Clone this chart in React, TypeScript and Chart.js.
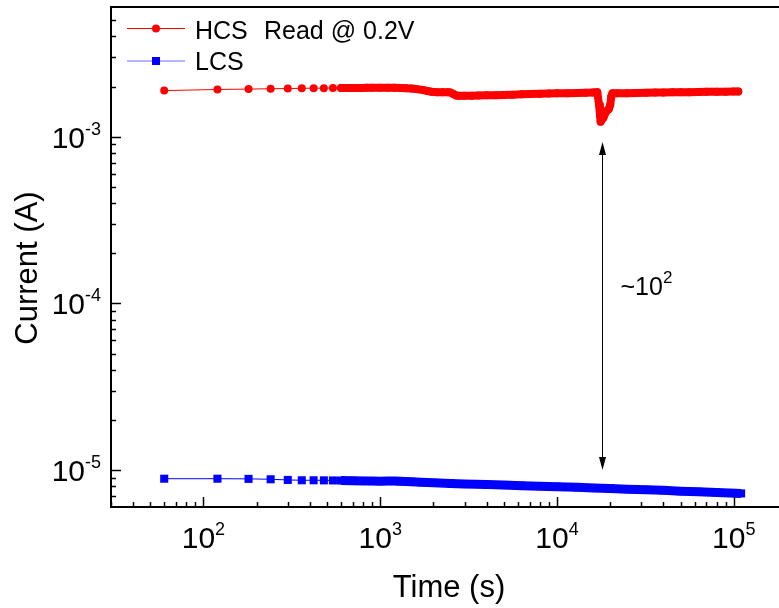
import React, { useEffect, useRef } from "react";
import { Chart, registerables } from "chart.js";

Chart.register(...registerables);

// ---------- data ----------
const HCS_TIME = [
  60, 120, 180, 240, 300, 360, 420, 480, 540, 600, 660, 720, 780, 840, 900,
  1000, 1100, 1200, 1300, 1400, 1500, 1600, 1750, 1850, 1950, 2100, 2250, 2400,
  2500, 2600, 2700, 2800, 3000, 3300, 3600, 4000, 4500, 5000, 5600, 6300, 7000,
  8000, 9000, 10000, 11500, 13000, 14500, 16000, 16900, 17300, 17500, 17650,
  18300, 19000, 19600, 20000, 20300, 20600, 22000, 25000, 28000, 32000, 36000,
  40000, 45000, 50000, 56000, 63000, 70000, 80000, 90000, 100000, 106000,
];
const HCS_CURRENT = [
  1.89e-3, 1.92e-3, 1.93e-3, 1.94e-3, 1.945e-3, 1.95e-3, 1.955e-3, 1.955e-3,
  1.96e-3, 1.96e-3, 1.96e-3, 1.962e-3, 1.962e-3, 1.965e-3, 1.965e-3, 1.966e-3,
  1.966e-3, 1.965e-3, 1.962e-3, 1.955e-3, 1.945e-3, 1.93e-3, 1.905e-3, 1.88e-3,
  1.86e-3, 1.85e-3, 1.848e-3, 1.845e-3, 1.84e-3, 1.8e-3, 1.765e-3, 1.76e-3,
  1.76e-3, 1.762e-3, 1.765e-3, 1.77e-3, 1.775e-3, 1.78e-3, 1.788e-3, 1.795e-3,
  1.802e-3, 1.81e-3, 1.815e-3, 1.82e-3, 1.825e-3, 1.83e-3, 1.835e-3, 1.84e-3,
  1.845e-3, 1.55e-3, 1.35e-3, 1.23e-3, 1.3e-3, 1.42e-3, 1.46e-3, 1.55e-3,
  1.75e-3, 1.82e-3, 1.82e-3, 1.825e-3, 1.83e-3, 1.835e-3, 1.84e-3, 1.84e-3,
  1.845e-3, 1.85e-3, 1.85e-3, 1.855e-3, 1.86e-3, 1.86e-3, 1.862e-3, 1.865e-3,
  1.865e-3,
];
const LCS_TIME = [
  60, 120, 180, 240, 300, 360, 420, 480, 540, 600, 700, 800, 900, 1000, 1100,
  1200, 1300, 1500, 1700, 2000, 2500, 3000, 4000, 5000, 6300, 8000, 10000,
  13000, 16000, 20000, 25000, 32000, 40000, 50000, 63000, 80000, 95000, 110000,
];
const LCS_CURRENT = [
  8.87e-6, 8.87e-6, 8.85e-6, 8.8e-6, 8.72e-6, 8.68e-6, 8.68e-6, 8.67e-6,
  8.66e-6, 8.65e-6, 8.62e-6, 8.6e-6, 8.58e-6, 8.57e-6, 8.58e-6, 8.58e-6,
  8.55e-6, 8.5e-6, 8.45e-6, 8.38e-6, 8.3e-6, 8.24e-6, 8.18e-6, 8.12e-6,
  8.06e-6, 8.0e-6, 7.94e-6, 7.87e-6, 7.81e-6, 7.75e-6, 7.68e-6, 7.61e-6,
  7.55e-6, 7.47e-6, 7.4e-6, 7.33e-6, 7.28e-6, 7.24e-6,
];
const BAND_START_TIME = 600;

const X_MIN = 30;
const X_MAX = 2e5;
const Y_MIN = 6e-6;
const Y_MAX = 6e-3;

const X_MAJOR = [100, 1000, 10000, 100000];
const X_MAJOR_EXP = ["2", "3", "4", "5"];
const Y_MAJOR = [1e-3, 1e-4, 1e-5];
const Y_MAJOR_EXP = ["-3", "-4", "-5"];

const ARROW_TIME = 18000;
const ARROW_TOP = 9.3e-4;
const ARROW_BOTTOM = 1.0e-5;
const ARROW_LABEL_BASE = "~10";
const ARROW_LABEL_EXP = "2";

const X_TITLE = "Time (s)";
const Y_TITLE = "Current (A)";
const HCS_NAME = "HCS";
const LCS_NAME = "LCS";
const READ_NOTE = "Read @ 0.2V";

const RED = "#ff0000";
const BLUE = "#0000ff";
const FONT = "'Liberation Sans', Arial, Helvetica, sans-serif";

function pts(t: number[], c: number[], from = 0) {
  const out: { x: number; y: number }[] = [];
  for (let i = 0; i < t.length; i++) if (t[i] >= from) out.push({ x: t[i], y: c[i] });
  return out;
}

function drawPow(
  ctx: CanvasRenderingContext2D,
  base: string,
  exp: string,
  x: number,
  y: number,
  align: "left" | "center" | "right",
  baseSize: number,
  supSize: number,
  raise: number
) {
  ctx.font = `${baseSize}px ${FONT}`;
  const wb = ctx.measureText(base).width;
  ctx.font = `${supSize}px ${FONT}`;
  const ws = ctx.measureText(exp).width;
  const total = wb + ws;
  const start = align === "center" ? x - total / 2 : align === "right" ? x - total : x;
  ctx.textAlign = "left";
  ctx.textBaseline = "alphabetic";
  ctx.font = `${baseSize}px ${FONT}`;
  ctx.fillText(base, start, y);
  ctx.font = `${supSize}px ${FONT}`;
  ctx.fillText(exp, start + wb, y - raise);
}

const decorPlugin = {
  id: "decor",
  afterDraw(chart: any) {
    const ctx: CanvasRenderingContext2D = chart.ctx;
    const xs = chart.scales.x;
    const ys = chart.scales.y;
    const ca = chart.chartArea;
    ctx.save();
    ctx.fillStyle = "#000";
    ctx.strokeStyle = "#000";

    // frame
    ctx.lineWidth = 2;
    ctx.strokeRect(ca.left, ca.top, ca.right - ca.left, ca.bottom - ca.top);

    // ticks
    ctx.lineWidth = 1.5;
    for (let d = 10; d <= 1e5; d *= 10) {
      for (let m = 1; m <= 9; m++) {
        const v = m * d;
        if (v < X_MIN || v > X_MAX) continue;
        const px = Math.round(xs.getPixelForValue(v)) + 0.5;
        const len = m === 1 ? 10 : 5;
        ctx.beginPath();
        ctx.moveTo(px, ca.bottom);
        ctx.lineTo(px, ca.bottom - len);
        ctx.stroke();
      }
    }
    for (let d = 1e-6; d <= 1e-2; d *= 10) {
      for (let m = 1; m <= 9; m++) {
        const v = m * d;
        if (v < Y_MIN * 1.001 || v > Y_MAX * 0.999) continue;
        const py = Math.round(ys.getPixelForValue(v)) + 0.5;
        const len = m === 1 ? 10 : 5;
        ctx.beginPath();
        ctx.moveTo(ca.left, py);
        ctx.lineTo(ca.left + len, py);
        ctx.stroke();
      }
    }

    // tick labels
    X_MAJOR.forEach((v, i) => {
      const px = xs.getPixelForValue(v);
      drawPow(ctx, "10", X_MAJOR_EXP[i], px, ca.bottom + 41, "center", 30, 18, 13);
    });
    Y_MAJOR.forEach((v, i) => {
      const py = ys.getPixelForValue(v);
      drawPow(ctx, "10", Y_MAJOR_EXP[i], ca.left - 10, py + 11, "right", 30, 18, 13);
    });

    // axis titles
    ctx.font = `31px ${FONT}`;
    ctx.textAlign = "center";
    ctx.textBaseline = "alphabetic";
    ctx.fillText(X_TITLE, (ca.left + ca.right) / 2, ca.bottom + 90);
    ctx.save();
    ctx.translate(37, 268);
    ctx.rotate(-Math.PI / 2);
    ctx.fillText(Y_TITLE, 0, 0);
    ctx.restore();

    // legend
    const lx0 = 127, lx1 = 185, lmx = 156;
    const hy = 28.5, ly = 61;
    ctx.lineWidth = 1;
    ctx.strokeStyle = RED;
    ctx.beginPath(); ctx.moveTo(lx0, hy); ctx.lineTo(lx1, hy); ctx.stroke();
    ctx.fillStyle = RED;
    ctx.beginPath(); ctx.arc(lmx, hy, 4, 0, Math.PI * 2); ctx.fill();
    ctx.strokeStyle = "#6b6bff";
    ctx.beginPath(); ctx.moveTo(lx0, ly); ctx.lineTo(lx1, ly); ctx.stroke();
    ctx.fillStyle = BLUE;
    ctx.fillRect(lmx - 4, ly - 4, 8, 8);
    ctx.fillStyle = "#000";
    ctx.font = `25px ${FONT}`;
    ctx.textAlign = "left";
    ctx.fillText(HCS_NAME, 195, hy + 10);
    ctx.fillText(READ_NOTE, 264, hy + 10);
    ctx.fillText(LCS_NAME, 195, ly + 9);

    // double arrow
    const ax = Math.round(xs.getPixelForValue(ARROW_TIME)) + 0.5;
    const ay0 = ys.getPixelForValue(ARROW_TOP);
    const ay1 = ys.getPixelForValue(ARROW_BOTTOM);
    const head = 13, hw = 3.5;
    ctx.strokeStyle = "#000";
    ctx.fillStyle = "#000";
    ctx.lineWidth = 1;
    ctx.beginPath(); ctx.moveTo(ax, ay0 + head - 2); ctx.lineTo(ax, ay1 - head + 2); ctx.stroke();
    ctx.beginPath();
    ctx.moveTo(ax, ay0); ctx.lineTo(ax - hw, ay0 + head); ctx.lineTo(ax + hw, ay0 + head); ctx.closePath(); ctx.fill();
    ctx.beginPath();
    ctx.moveTo(ax, ay1); ctx.lineTo(ax - hw, ay1 - head); ctx.lineTo(ax + hw, ay1 - head); ctx.closePath(); ctx.fill();
    drawPow(ctx, ARROW_LABEL_BASE, ARROW_LABEL_EXP, ax + 18, 295, "left", 25, 17, 12);

    ctx.restore();
  },
};

export default function App() {
  const ref = useRef<HTMLCanvasElement | null>(null);
  useEffect(() => {
    if (!ref.current) return;
    const chart = new Chart(ref.current, {
      type: "scatter",
      data: {
        datasets: [
          {
            label: "HCS band",
            data: pts(HCS_TIME, HCS_CURRENT, BAND_START_TIME),
            showLine: true,
            borderColor: RED,
            borderWidth: 8,
            borderCapStyle: "round",
            borderJoinStyle: "round",
            pointRadius: 0,
          },
          {
            label: "HCS",
            data: pts(HCS_TIME, HCS_CURRENT),
            showLine: true,
            borderColor: RED,
            borderWidth: 1,
            pointRadius: 4,
            pointBorderWidth: 0,
            pointBackgroundColor: RED,
            pointStyle: "circle",
          },
          {
            label: "LCS band",
            data: pts(LCS_TIME, LCS_CURRENT, BAND_START_TIME),
            showLine: true,
            borderColor: BLUE,
            borderWidth: 9,
            borderCapStyle: "butt",
            borderJoinStyle: "round",
            pointRadius: 0,
          },
          {
            label: "LCS",
            data: pts(LCS_TIME, LCS_CURRENT),
            showLine: true,
            borderColor: BLUE,
            borderWidth: 1,
            pointRadius: 5.7,
            pointBorderWidth: 0,
            pointBackgroundColor: BLUE,
            pointStyle: "rect",
          },
        ],
      } as any,
      options: {
        animation: false,
        responsive: false,
        maintainAspectRatio: false,
        devicePixelRatio: 1,
        layout: { padding: { left: 111, top: 7, right: 13, bottom: 101 } },
        scales: {
          x: { type: "logarithmic", min: X_MIN, max: X_MAX, display: false },
          y: { type: "logarithmic", min: Y_MIN, max: Y_MAX, display: false },
        },
        plugins: { legend: { display: false }, tooltip: { enabled: false } },
        events: [],
      } as any,
      plugins: [decorPlugin],
    });
    return () => chart.destroy();
  }, []);

  return (
    <div
      style={{
        position: "absolute",
        left: 0,
        top: 0,
        width: 779,
        height: 608,
        overflow: "hidden",
        background: "#fff",
      }}
    >
      <canvas ref={ref} width={800} height={608} style={{ display: "block", width: 800, height: 608 }} />
    </div>
  );
}
